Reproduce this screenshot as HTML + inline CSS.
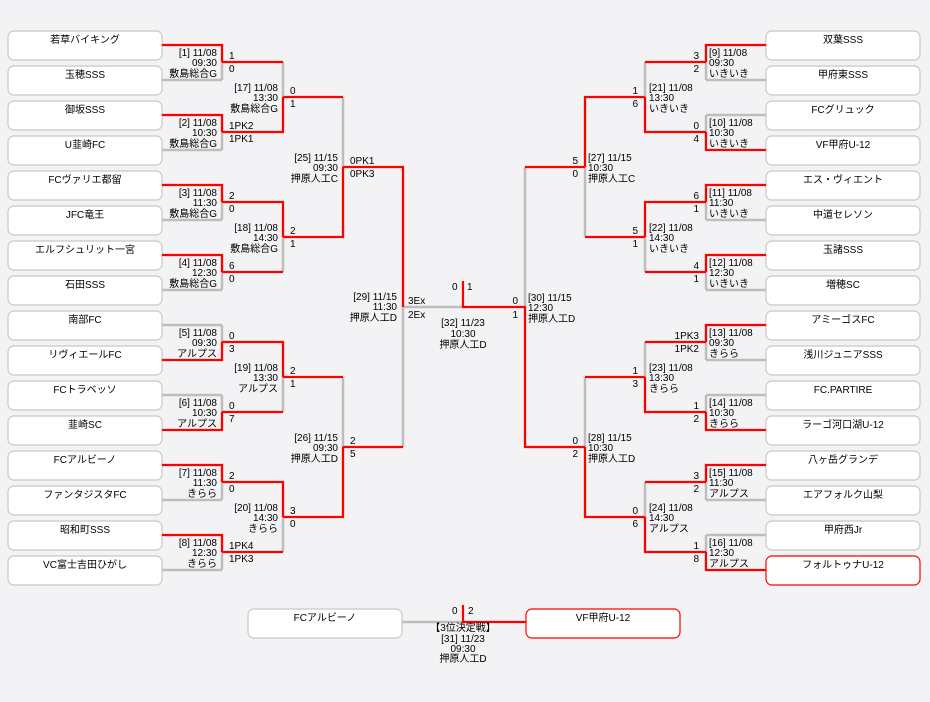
<!DOCTYPE html>
<html><head><meta charset="utf-8"><style>
html,body{margin:0;padding:0;background:#f3f2f5;}
svg{display:block;font-family:"Liberation Sans","Noto Sans CJK JP",sans-serif;font-size:10px;}
.b{fill:#fff;stroke:#c8c8c8;stroke-width:1.2}
.br{fill:#fff;stroke:#f00;stroke-width:1.2}
.g{fill:none;stroke:#bdbdbd;stroke-width:2.5}
.r{fill:none;stroke:#f00;stroke-width:2.2}
.n{text-anchor:middle}
.e{text-anchor:end}
</style></head><body>
<svg width="930" height="702" viewBox="0 0 930 702">
<rect width="930" height="702" fill="#f3f2f5"/>
<!-- left boxes -->
<g>
<rect class="b" x="8" y="31" width="154" height="29" rx="6"/>
<rect class="b" x="8" y="66" width="154" height="29" rx="6"/>
<rect class="b" x="8" y="101" width="154" height="29" rx="6"/>
<rect class="b" x="8" y="136" width="154" height="29" rx="6"/>
<rect class="b" x="8" y="171" width="154" height="29" rx="6"/>
<rect class="b" x="8" y="206" width="154" height="29" rx="6"/>
<rect class="b" x="8" y="241" width="154" height="29" rx="6"/>
<rect class="b" x="8" y="276" width="154" height="29" rx="6"/>
<rect class="b" x="8" y="311" width="154" height="29" rx="6"/>
<rect class="b" x="8" y="346" width="154" height="29" rx="6"/>
<rect class="b" x="8" y="381" width="154" height="29" rx="6"/>
<rect class="b" x="8" y="416" width="154" height="29" rx="6"/>
<rect class="b" x="8" y="451" width="154" height="29" rx="6"/>
<rect class="b" x="8" y="486" width="154" height="29" rx="6"/>
<rect class="b" x="8" y="521" width="154" height="29" rx="6"/>
<rect class="b" x="8" y="556" width="154" height="29" rx="6"/>
<!-- right boxes -->
<rect class="b" x="766" y="31" width="154" height="29" rx="6"/>
<rect class="b" x="766" y="66" width="154" height="29" rx="6"/>
<rect class="b" x="766" y="101" width="154" height="29" rx="6"/>
<rect class="b" x="766" y="136" width="154" height="29" rx="6"/>
<rect class="b" x="766" y="171" width="154" height="29" rx="6"/>
<rect class="b" x="766" y="206" width="154" height="29" rx="6"/>
<rect class="b" x="766" y="241" width="154" height="29" rx="6"/>
<rect class="b" x="766" y="276" width="154" height="29" rx="6"/>
<rect class="b" x="766" y="311" width="154" height="29" rx="6"/>
<rect class="b" x="766" y="346" width="154" height="29" rx="6"/>
<rect class="b" x="766" y="381" width="154" height="29" rx="6"/>
<rect class="b" x="766" y="416" width="154" height="29" rx="6"/>
<rect class="b" x="766" y="451" width="154" height="29" rx="6"/>
<rect class="b" x="766" y="486" width="154" height="29" rx="6"/>
<rect class="b" x="766" y="521" width="154" height="29" rx="6"/>
<rect class="br" x="766" y="556" width="154" height="29" rx="6"/>
<!-- 3rd place -->
<rect class="b" x="248" y="609" width="154" height="29" rx="6"/>
<rect class="br" x="526" y="609" width="154" height="29" rx="6"/>
</g>
<!-- gray lines -->
<path class="g" d="
M162 80H222 M162 150H222 M162 220H222 M162 290H222 M162 325H222 M162 395H222 M162 500H222 M162 570H222
M222 45V80 M222 115V150 M222 185V220 M222 255V290 M222 325V360 M222 395V430 M222 465V500 M222 535V570
M283 62V132 M283 202V272 M283 342V412 M283 482V552
M343 97V237 M343 377V517
M403 167V447 M403 307H463
M766 80H706 M766 115H706 M766 220H706 M766 290H706 M766 360H706 M766 395H706 M766 500H706 M766 535H706
M706 45V80 M706 115V150 M706 185V220 M706 255V290 M706 325V360 M706 395V430 M706 465V500 M706 535V570
M645 62V132 M645 202V272 M645 342V412 M645 482V552
M585 97V237 M585 377V517
M525 167V447
M402 622H463"/>
<!-- red lines -->
<path class="r" d="
M162 45H222V62 M162 115H222V132 M162 185H222V202 M162 255H222V272
M162 360H222V342 M162 430H222V412 M162 465H222V482 M162 535H222V552
M222 62H283 M222 132H283V97 M222 202H283V237 M222 272H283 M222 342H283V377 M222 412H283 M222 482H283V517 M222 552H283
M283 97H343 M283 237H343V167 M283 377H343 M283 517H343V447
M343 167H403V307 M343 447H403
M766 45H706V62 M766 150H706V132 M766 185H706V202 M766 255H706V272
M766 325H706V342 M766 430H706V412 M766 465H706V482 M766 570H706V552
M706 62H645 M706 132H645V97 M706 202H645V237 M706 272H645 M706 342H645 M706 412H645V377 M706 482H645 M706 552H645V517
M645 97H585V167 M645 237H585 M645 377H585 M645 517H585V447
M585 167H525 M585 447H525V307 H463 V281
M526 622H463V605"/>
<!-- team names -->
<g class="n">
<text x="85" y="43">若草バイキング</text>
<text x="85" y="78">玉穂SSS</text>
<text x="85" y="113">御坂SSS</text>
<text x="85" y="148">U韮崎FC</text>
<text x="85" y="183">FCヴァリエ都留</text>
<text x="85" y="218">JFC竜王</text>
<text x="85" y="253">エルフシュリット一宮</text>
<text x="85" y="288">石田SSS</text>
<text x="85" y="323">南部FC</text>
<text x="85" y="358">リヴィエールFC</text>
<text x="85" y="393">FCトラベッソ</text>
<text x="85" y="428">韮崎SC</text>
<text x="85" y="463">FCアルビーノ</text>
<text x="85" y="498">ファンタジスタFC</text>
<text x="85" y="533">昭和町SSS</text>
<text x="85" y="568">VC富士吉田ひがし</text>
<text x="843" y="43">双葉SSS</text>
<text x="843" y="78">甲府東SSS</text>
<text x="843" y="113">FCグリュック</text>
<text x="843" y="148">VF甲府U-12</text>
<text x="843" y="183">エス・ヴィエント</text>
<text x="843" y="218">中道セレソン</text>
<text x="843" y="253">玉諸SSS</text>
<text x="843" y="288">増穂SC</text>
<text x="843" y="323">アミーゴスFC</text>
<text x="843" y="358">浅川ジュニアSSS</text>
<text x="843" y="393">FC.PARTIRE</text>
<text x="843" y="428">ラーゴ河口湖U-12</text>
<text x="843" y="463">八ヶ岳グランデ</text>
<text x="843" y="498">エアフォルク山梨</text>
<text x="843" y="533">甲府西Jr</text>
<text x="843" y="568">フォルトゥナU-12</text>
<text x="325" y="621">FCアルビーノ</text>
<text x="603" y="621">VF甲府U-12</text>
</g>
<!-- left info -->
<g class="e">
<text x="217" y="56">[1] 11/08</text><text x="217" y="66">09:30</text><text x="217" y="77">敷島総合G</text>
<text x="217" y="126">[2] 11/08</text><text x="217" y="136">10:30</text><text x="217" y="147">敷島総合G</text>
<text x="217" y="196">[3] 11/08</text><text x="217" y="206">11:30</text><text x="217" y="217">敷島総合G</text>
<text x="217" y="266">[4] 11/08</text><text x="217" y="276">12:30</text><text x="217" y="287">敷島総合G</text>
<text x="217" y="336">[5] 11/08</text><text x="217" y="346">09:30</text><text x="217" y="357">アルプス</text>
<text x="217" y="406">[6] 11/08</text><text x="217" y="416">10:30</text><text x="217" y="427">アルプス</text>
<text x="217" y="476">[7] 11/08</text><text x="217" y="486">11:30</text><text x="217" y="497">きらら</text>
<text x="217" y="546">[8] 11/08</text><text x="217" y="556">12:30</text><text x="217" y="567">きらら</text>
<text x="278" y="91">[17] 11/08</text><text x="278" y="101">13:30</text><text x="278" y="112">敷島総合G</text>
<text x="278" y="231">[18] 11/08</text><text x="278" y="241">14:30</text><text x="278" y="252">敷島総合G</text>
<text x="278" y="371">[19] 11/08</text><text x="278" y="381">13:30</text><text x="278" y="392">アルプス</text>
<text x="278" y="511">[20] 11/08</text><text x="278" y="521">14:30</text><text x="278" y="532">きらら</text>
<text x="338" y="161">[25] 11/15</text><text x="338" y="171">09:30</text><text x="338" y="182">押原人工C</text>
<text x="338" y="441">[26] 11/15</text><text x="338" y="451">09:30</text><text x="338" y="462">押原人工D</text>
<text x="397" y="300">[29] 11/15</text><text x="397" y="310">11:30</text><text x="397" y="321">押原人工D</text>
<!-- right scores -->
<text x="699" y="59">3</text><text x="699" y="72">2</text>
<text x="699" y="129">0</text><text x="699" y="142">4</text>
<text x="699" y="199">6</text><text x="699" y="212">1</text>
<text x="699" y="269">4</text><text x="699" y="282">1</text>
<text x="699" y="339">1PK3</text><text x="699" y="352">1PK2</text>
<text x="699" y="409">1</text><text x="699" y="422">2</text>
<text x="699" y="479">3</text><text x="699" y="492">2</text>
<text x="699" y="549">1</text><text x="699" y="562">8</text>
<text x="638" y="94">1</text><text x="638" y="107">6</text>
<text x="638" y="234">5</text><text x="638" y="247">1</text>
<text x="638" y="374">1</text><text x="638" y="387">3</text>
<text x="638" y="514">0</text><text x="638" y="527">6</text>
<text x="578" y="164">5</text><text x="578" y="177">0</text>
<text x="578" y="444">0</text><text x="578" y="457">2</text>
<text x="518" y="304">0</text><text x="518" y="318">1</text>
</g>
<!-- left scores -->
<g>
<text x="229" y="59">1</text><text x="229" y="72">0</text>
<text x="229" y="129">1PK2</text><text x="229" y="142">1PK1</text>
<text x="229" y="199">2</text><text x="229" y="212">0</text>
<text x="229" y="269">6</text><text x="229" y="282">0</text>
<text x="229" y="339">0</text><text x="229" y="352">3</text>
<text x="229" y="409">0</text><text x="229" y="422">7</text>
<text x="229" y="479">2</text><text x="229" y="492">0</text>
<text x="229" y="549">1PK4</text><text x="229" y="562">1PK3</text>
<text x="290" y="94">0</text><text x="290" y="107">1</text>
<text x="290" y="234">2</text><text x="290" y="247">1</text>
<text x="290" y="374">2</text><text x="290" y="387">1</text>
<text x="290" y="514">3</text><text x="290" y="527">0</text>
<text x="350" y="164">0PK1</text><text x="350" y="177">0PK3</text>
<text x="350" y="444">2</text><text x="350" y="457">5</text>
<text x="408" y="304">3Ex</text><text x="408" y="318">2Ex</text>
<!-- right info -->
<text x="709" y="56">[9] 11/08</text><text x="709" y="66">09:30</text><text x="709" y="77">いきいき</text>
<text x="709" y="126">[10] 11/08</text><text x="709" y="136">10:30</text><text x="709" y="147">いきいき</text>
<text x="709" y="196">[11] 11/08</text><text x="709" y="206">11:30</text><text x="709" y="217">いきいき</text>
<text x="709" y="266">[12] 11/08</text><text x="709" y="276">12:30</text><text x="709" y="287">いきいき</text>
<text x="709" y="336">[13] 11/08</text><text x="709" y="346">09:30</text><text x="709" y="357">きらら</text>
<text x="709" y="406">[14] 11/08</text><text x="709" y="416">10:30</text><text x="709" y="427">きらら</text>
<text x="709" y="476">[15] 11/08</text><text x="709" y="486">11:30</text><text x="709" y="497">アルプス</text>
<text x="709" y="546">[16] 11/08</text><text x="709" y="556">12:30</text><text x="709" y="567">アルプス</text>
<text x="649" y="91">[21] 11/08</text><text x="649" y="101">13:30</text><text x="649" y="112">いきいき</text>
<text x="649" y="231">[22] 11/08</text><text x="649" y="241">14:30</text><text x="649" y="252">いきいき</text>
<text x="649" y="371">[23] 11/08</text><text x="649" y="381">13:30</text><text x="649" y="392">きらら</text>
<text x="649" y="511">[24] 11/08</text><text x="649" y="521">14:30</text><text x="649" y="532">アルプス</text>
<text x="588" y="161">[27] 11/15</text><text x="588" y="171">10:30</text><text x="588" y="182">押原人工C</text>
<text x="588" y="441">[28] 11/15</text><text x="588" y="451">10:30</text><text x="588" y="462">押原人工D</text>
<text x="528" y="301">[30] 11/15</text><text x="528" y="311">12:30</text><text x="528" y="322">押原人工D</text>
<!-- final -->
<text x="452" y="290">0</text><text x="467" y="290">1</text>
<text x="452" y="614">0</text><text x="468" y="614">2</text>
</g>
<g class="n">
<text x="463" y="326">[32] 11/23</text><text x="463" y="337">10:30</text><text x="463" y="348">押原人工D</text>
<text x="463" y="631">【3位決定戦】</text><text x="463" y="642">[31] 11/23</text><text x="463" y="652">09:30</text><text x="463" y="662">押原人工D</text>
</g>
</svg>
</body></html>
